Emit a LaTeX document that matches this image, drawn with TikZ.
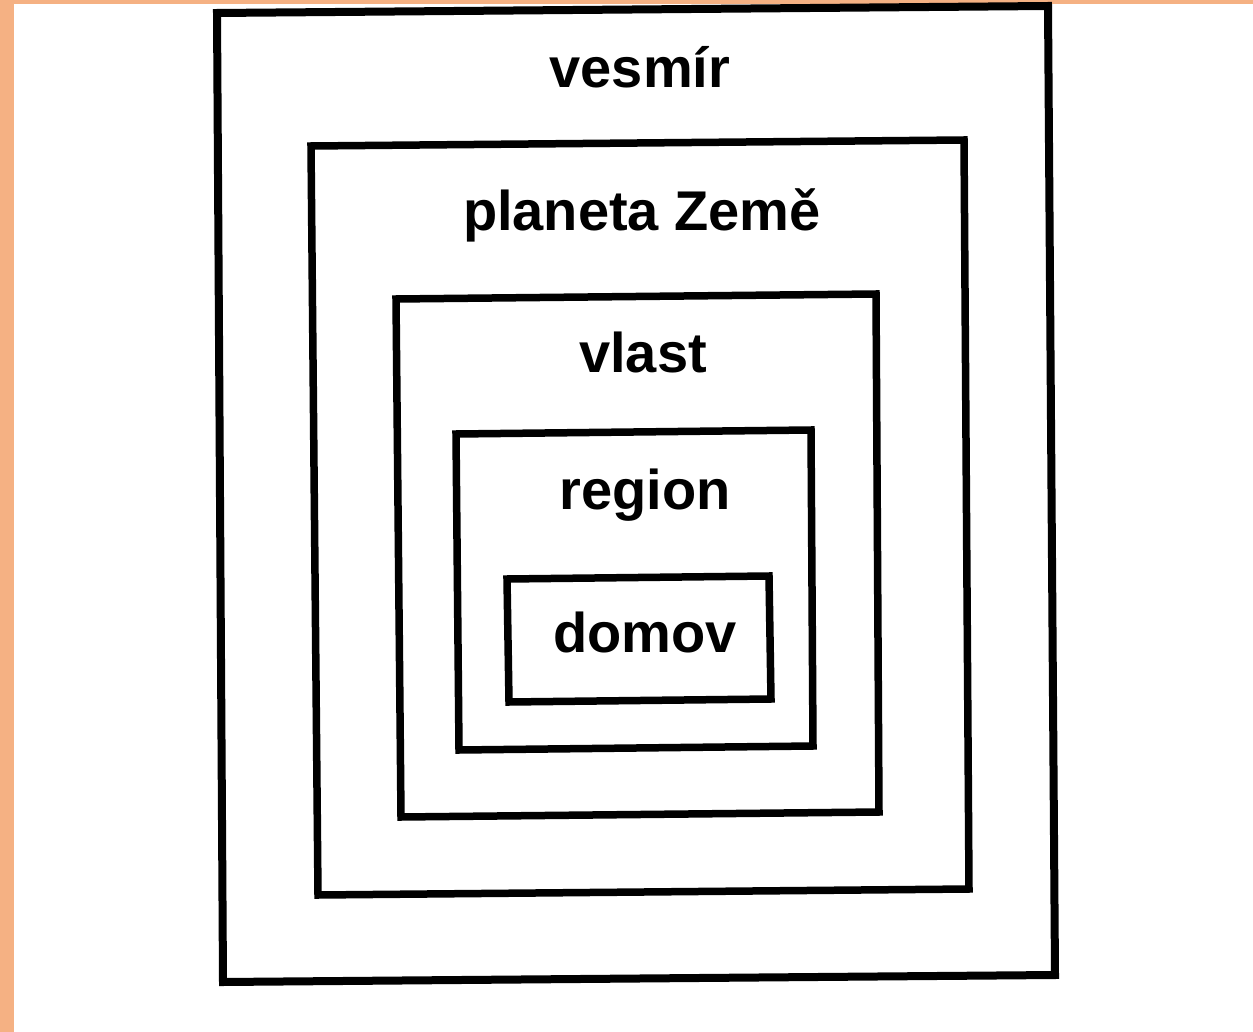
\documentclass[tikz,border=0pt]{standalone}
\usepackage{fontspec}
\setmainfont{Liberation Sans}
\definecolor{frameorange}{HTML}{F5B183}
\tikzset{
  boxline/.style={draw=black, line width=7.5pt, line join=miter},
  lbl/.style={anchor=base, inner sep=0pt, font=\fontsize{56}{60}\selectfont\bfseries}
}
\begin{document}
\begin{tikzpicture}[x=1pt, y=-1pt]
\useasboundingbox (0,0) rectangle (1253,1032);
\fill[white] (0,0) rectangle (1253,1032);
\fill[frameorange] (0,0) rectangle (14,1032);
\fill[frameorange] (0,0) rectangle (1253,4);
% box 1: vesmir
\coordinate (b1tl) at (217,13);
\coordinate (b1tr) at (1048,6);
\coordinate (b1br) at (1055,975);
\coordinate (b1bl) at (223,982);
\draw[boxline, line width=8pt] (b1tl) -- (b1tr) -- (b1br) -- (b1bl) -- cycle;
% box 2: planeta Zeme
\coordinate (b2tl) at (311,146);
\coordinate (b2tr) at (964,140);
\coordinate (b2br) at (969,889);
\coordinate (b2bl) at (318,895);
\draw[boxline] (b2tl) -- (b2tr) -- (b2br) -- (b2bl) -- cycle;
% box 3: vlast
\coordinate (b3tl) at (396,299);
\coordinate (b3tr) at (876,294);
\coordinate (b3br) at (879,812);
\coordinate (b3bl) at (401,817);
\draw[boxline] (b3tl) -- (b3tr) -- (b3br) -- (b3bl) -- cycle;
% box 4: region
\coordinate (b4tl) at (456,434);
\coordinate (b4tr) at (811,430);
\coordinate (b4br) at (813,746);
\coordinate (b4bl) at (459,750);
\draw[boxline] (b4tl) -- (b4tr) -- (b4br) -- (b4bl) -- cycle;
% box 5: domov
\coordinate (b5tl) at (507,579);
\coordinate (b5tr) at (769,576);
\coordinate (b5br) at (771,699);
\coordinate (b5bl) at (509,702);
\draw[boxline] (b5tl) -- (b5tr) -- (b5br) -- (b5bl) -- cycle;
% labels
\node[lbl] (t1) at (640,88) {vesmír};
\node[lbl] (t2) at (642,231) {planeta Země};
\node[lbl] (t3) at (643,372) {vlast};
\node[lbl] (t4) at (645,509) {region};
\node[lbl] (t5) at (645,652) {domov};
\end{tikzpicture}
\end{document}
